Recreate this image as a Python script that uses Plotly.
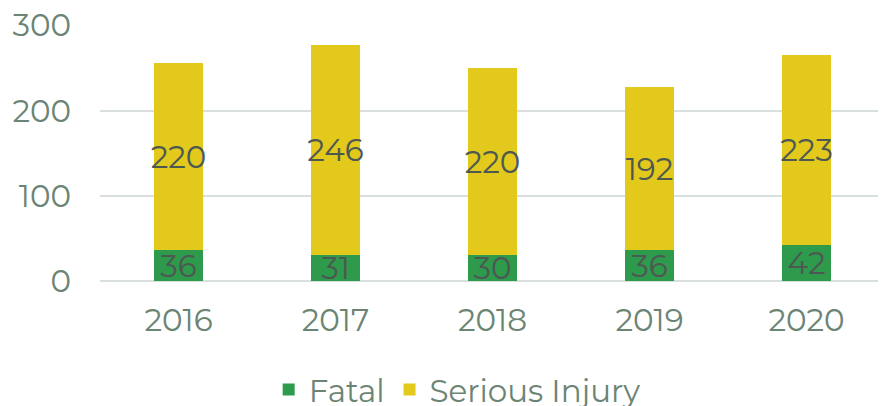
import plotly.graph_objects as go

years = ["2016", "2017", "2018", "2019", "2020"]
fatal = [36, 31, 30, 36, 42]
serious = [220, 246, 220, 192, 223]

GREEN = "#2e9a4b"
YELLOW = "#e2c91c"
TICK = "#6b8474"
LABEL = "#4d5853"
FONT = "Montserrat, Lato, Noto Sans, sans-serif"
FS = 31

fig = go.Figure()
for name, vals, col in [("Fatal", fatal, GREEN), ("Serious Injury", serious, YELLOW)]:
    fig.add_trace(go.Bar(x=years, y=vals, name=name, marker_color=col, marker_line_width=0,
                         text=vals, textposition="inside", insidetextanchor="middle",
                         textangle=0, constraintext="none", cliponaxis=False,
                         textfont=dict(color=LABEL, size=FS, family=FONT), width=0.31))

fig.update_layout(
    barmode="stack",
    width=886, height=406,
    margin=dict(l=92, r=9, t=17, b=133, autoexpand=False),
    plot_bgcolor="white", paper_bgcolor="white",
    font=dict(family=FONT, color=TICK, size=FS),
    uniformtext=dict(mode=False),
    showlegend=True,
    legend=dict(orientation="h", x=0.455, xanchor="center", y=-0.425, yanchor="middle",
                font=dict(size=FS, color=TICK), itemwidth=30, traceorder="normal"),
)
fig.update_xaxes(showgrid=False, showline=False, ticks="", automargin=False,
                 ticklabelstandoff=18, tickfont=dict(size=FS, color=TICK))
fig.update_yaxes(range=[0, 300.6], tickvals=[0, 100, 200, 300], showgrid=True, gridcolor="#d9dfdc",
                 gridwidth=2, zeroline=True, zerolinecolor="#d9dfdc", zerolinewidth=2,
                 ticklabeloverflow="allow",
                 automargin=False, ticks="", ticklabelstandoff=28, tickfont=dict(size=FS, color=TICK))

fig.write_html("out.html")
